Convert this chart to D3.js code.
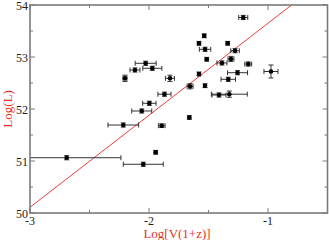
<!DOCTYPE html>
<html><head><meta charset="utf-8">
<script src="https://cdn.jsdelivr.net/npm/d3@7"></script>
<style>body{margin:0;background:#fff}svg{display:block}</style>
</head><body>
<script>
// data: log V(1+z), log L, x error, y error
const logV = [-2.692,-2.048,-1.944,-2.216,-1.893,-1.661,-2.061,-1.997,-1.870,-1.655,-1.529,-1.412,-1.325,-1.334,-1.580,-1.256,-0.975,-1.166,-1.387,-1.515,-1.311,-1.529,-1.277,-1.580,-1.339,-1.536,-1.208,-2.202,-2.118,-2.028,-1.972,-1.824];
const logL = [51.063,50.937,51.167,51.692,51.679,51.837,51.962,52.110,52.285,52.437,52.448,52.269,52.285,52.571,52.673,52.698,52.721,52.865,52.885,52.956,52.962,53.148,53.121,53.263,53.263,53.408,53.760,52.590,52.750,52.879,52.783,52.590];
const errV = [0.456,0.168,0.012,0.129,0.028,0.012,0.084,0.056,0.055,0.025,0.012,0.059,0.151,0.061,0.012,0.084,0.059,0.029,0.042,0.012,0.025,0.048,0.036,0.012,0.012,0.012,0.038,0.017,0.042,0.088,0.080,0.038];
const errL = [0.04,0.04,0.035,0.04,0.035,0.035,0.04,0.04,0.04,0.05,0.035,0.04,0.06,0.04,0.035,0.04,0.125,0.04,0.04,0.035,0.05,0.04,0.04,0.035,0.035,0.035,0.04,0.06,0.04,0.04,0.04,0.06];
const xTicks = [-3,-2,-1];
const yTicks = [50,51,52,53,54];
const fitSlope = 1.77, fitIntercept = 55.42;

const W = 329, H = 240;
const svg = d3.select("body").append("svg").attr("width", W).attr("height", H);
const x = d3.scaleLinear().domain([-3, -0.5]).range([30, 327.5]);
const y = d3.scaleLinear().domain([50, 54]).range([213, 5]);
const frame = "#7a7a7a";
const font = "Liberation Serif, Times New Roman, serif";

svg.append("clipPath").attr("id","c").append("rect")
  .attr("x",30).attr("y",5).attr("width",297.5).attr("height",208);

// ticks (inward, mirrored on all sides)
const xMinor = d3.range(-3, -0.49, 0.5);
const yMinor = d3.range(50, 54.01, 0.5);
const tk = svg.append("g").attr("stroke", frame).attr("stroke-width", 1);
xMinor.forEach(v => {
  const len = Number.isInteger(v) ? 5 : 3;
  tk.append("line").attr("x1", x(v)).attr("x2", x(v)).attr("y1", 213).attr("y2", 213 - len);
  tk.append("line").attr("x1", x(v)).attr("x2", x(v)).attr("y1", 5).attr("y2", 5 + len);
});
yMinor.forEach(v => {
  const len = Number.isInteger(v) ? 5 : 3;
  tk.append("line").attr("y1", y(v)).attr("y2", y(v)).attr("x1", 30).attr("x2", 30 + len);
  tk.append("line").attr("y1", y(v)).attr("y2", y(v)).attr("x1", 327.5).attr("x2", 327.5 - len);
});

// tick labels
svg.append("g").selectAll("text").data(xTicks).join("text")
  .attr("x", d => x(d)).attr("y", 224.5).attr("text-anchor","middle")
  .attr("font-family",font).attr("font-size",12).attr("fill","#222")
  .text(d => d);
svg.append("g").selectAll("text").data(yTicks).join("text")
  .attr("x", 28).attr("y", d => y(d) + 4.5).attr("text-anchor","end")
  .attr("font-family",font).attr("font-size",12).attr("fill","#222")
  .text(d => d);

// axis titles
svg.append("text").attr("x", 177).attr("y", 237.5).attr("text-anchor","middle")
  .attr("font-family",font).attr("font-size",13).attr("fill","#e8302a")
  .text("Log[V(1+z)]");
svg.append("text").attr("transform","translate(12,109) rotate(-90)").attr("text-anchor","middle")
  .attr("font-family",font).attr("font-size",13).attr("fill","#e8302a")
  .text("Log(L)");

// fit line
const g = svg.append("g").attr("clip-path","url(#c)");
const xEnd = (54 - fitIntercept) / fitSlope;
g.append("line")
  .attr("x1", x(-3)).attr("y1", y(fitSlope * -3 + fitIntercept))
  .attr("x2", x(xEnd)).attr("y2", y(54))
  .attr("stroke","#f03a3a").attr("stroke-width",1);

// error bars
const data = logV.map((v,i) => ({x:v, y:logL[i], ex:errV[i], ey:errL[i]}));
const eb = g.append("g").attr("stroke","#333").attr("stroke-width",1);
data.forEach(d => {
  const cx = x(d.x), cy = y(d.y);
  const x0 = x(d.x - d.ex), x1 = x(d.x + d.ex);
  const y0 = y(d.y - d.ey), y1 = y(d.y + d.ey);
  eb.append("line").attr("x1", x0).attr("x2", x1).attr("y1", cy).attr("y2", cy);
  eb.append("line").attr("x1", x0).attr("x2", x0).attr("y1", cy - 2.5).attr("y2", cy + 2.5);
  eb.append("line").attr("x1", x1).attr("x2", x1).attr("y1", cy - 2.5).attr("y2", cy + 2.5);
  eb.append("line").attr("x1", cx).attr("x2", cx).attr("y1", y0).attr("y2", y1);
  eb.append("line").attr("x1", cx - 2.5).attr("x2", cx + 2.5).attr("y1", y0).attr("y2", y0);
  eb.append("line").attr("x1", cx - 2.5).attr("x2", cx + 2.5).attr("y1", y1).attr("y2", y1);
});
g.append("g").selectAll("circle").data(data).join("circle")
  .attr("cx", d => x(d.x)).attr("cy", d => y(d.y)).attr("r", 2.3).attr("fill","#000");

// frame
svg.append("rect").attr("x",30).attr("y",5).attr("width",297.5).attr("height",208)
  .attr("fill","none").attr("stroke",frame).attr("stroke-width",1.6);
</script>
</body></html>
